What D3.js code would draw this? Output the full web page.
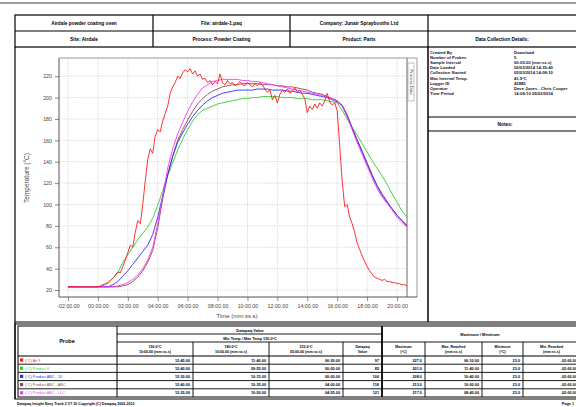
<!DOCTYPE html>
<html><head><meta charset="utf-8">
<script src="https://cdn.jsdelivr.net/npm/d3@7"></script>
<style>
html,body{margin:0;padding:0;background:#fff;overflow:hidden}
svg{display:block;font-family:"Liberation Sans",Arial,sans-serif}
</style></head><body>
<svg id="c" width="576" height="407"></svg>
<script>
// ---------- data ----------
const headerRow1 = ["Airdale powder coating oven", "File: airdale-1.paq", "Company: Junair Spraybooths Ltd", ""];
const headerRow2 = ["Site: Airdale", "Process: Powder Coating", "Product: Parts", "Data Collection Details:"];
const detailLabels = ["Created By", "Number of Probes", "Sample Interval", "Date Loaded", "Collection Started", "Max Internal Temp.", "Logger ID", "Operator", "Time Period"];
const detailValues = ["Download", "5", "00:05.00 (mm:ss.s)", "05/03/2014 14:35:40", "05/03/2014 14:08:10", "41.9°C", "45885", "Dave Jones - Chris Cooper", "14:08:10 05/03/2014"];

const yTicks = [20, 40, 60, 80, 100, 120, 140, 160, 180, 200, 220];
const xTicks = [-120, 0, 120, 240, 360, 480, 600, 720, 840, 960, 1080, 1200];
const xTickLabels = ["-02:00.00", "00:00.00", "02:00.00", "04:00.00", "06:00.00", "08:00.00", "10:00.00", "12:00.00", "14:00.00", "16:00.00", "18:00.00", "20:00.00"];

const airTimes = [-120,-110,-100,-90,-80,-70,-60,-50,-40,-30,-20,-10,0,
 10,20,30,40,50,60,70,80,90,100,
 110,120,130,140,150,160,170,180,190,200,
 210,220,230,240,250,260,270,280,290,300,
 310,320,330,340,350,360,370,380,390,400,
 410,420,430,440,450,460,470,480,490,500,
 510,520,530,540,550,560,570,580,590,600,
 610,620,630,640,650,660,670,680,690,700,
 710,720,730,740,750,760,770,780,790,800,
 810,820,830,840,850,860,870,880,890,900,
 910,920,930,940,950,960,970,980,990,1000,
 1010,1020,1030,1040,1050,1060,1070,1080,1090,1100,
 1110,1120,1130,1140,1150,1160,1170,1180,1190,1200,
 1210,1220,1230,1240];
const air = [23,23,23,23,23,23,23,23,23,23,23,23,23,
 24,25,26,27,29,31,34,37,36,42,
 48,55,62,60,74,85,82,100,122,142,
 152,148,164,170,168,178,185,192,204,210,
 214,220,218,223,226,224,227,222,225,220,
 222,217,218,214,216,212,215,213,222,214,
 212,216,213,214,211,213,215,212,211,214,
 212,210,213,211,214,212,208,205,207,198,
 202,195,203,207,205,208,204,206,209,205,
 207,203,199,186,192,189,194,190,195,192,
 197,204,196,193,195,188,155,122,98,100,
 88,82,74,64,58,52,47,42,38,35,
 32,31,30,29,30,28,28,27,27,26,
 26,25,25,24];

const productTimes = [-120,-100,-80,-60,-40,-20,0,
 20,40,60,80,100,120,140,160,180,200,
 220,240,260,280,300,320,340,360,380,400,
 420,440,460,480,500,520,540,560,580,600,
 620,640,660,680,700,720,740,760,780,800,
 820,840,860,880,900,920,940,960,980,1000,
 1020,1040,1060,1080,1100,1120,1140,1160,1180,1200,
 1220,1240];
const product6 = [23,23,23,23,23,23,23,
 24,26,31,36,46,53,60,67,73,79,
 87,99,113,127,139,151,161,170,178,184,
 188,190,192,194,195,196,197,198,199,199,
 200,200,201,201,201,201,200,200,200,199,
 199,199,198,198,198,197,196,195,188,180,
 172,165,157,149,141,134,127,119,110,102,
 94,88];
const product10 = [23,23,23,23,23,23,23,
 23,23,25,28,33,38,44,50,56,62,
 72,88,108,128,145,158,167,175,182,188,
 193,197,200,202,204,205,206,207,207,207,
 207,208,208,208,207,207,207,206,206,205,
 204,204,203,202,201,200,198,196,192,183,
 171,160,149,138,127,117,109,102,96,90,
 85,80];
const productAbc = [23,23,23,23,23,23,23,
 23,23,23,23,24,25,28,32,38,46,
 57,78,105,128,145,160,170,179,187,194,
 199,203,206,208,210,211,212,212,213,213,
 213,213,212,212,212,211,211,210,210,209,
 208,207,205,204,203,201,199,197,193,184,
 172,161,150,139,128,118,110,103,96,90,
 85,80];
const productLlc = [23,23,23,23,23,23,23,
 23,23,23,24,25,27,30,34,40,48,
 60,82,108,134,152,166,177,187,196,203,
 209,212,215,216,217,217,217,217,216,216,
 215,215,214,213,212,211,210,209,208,207,
 206,205,204,203,202,200,199,197,192,182,
 170,158,147,136,125,115,107,101,95,88,
 83,79];

const probeNames = ["(°C) Air 9", "(°C) Product 6", "(°C) Product ABC - 10", "(°C) Product ABC - ABC", "(°C) Product ABC - LLC"];
const probeColors = ["#ff1a1a", "#33cc33", "#2a2aff", "#8b4a4a", "#ff33ff"];
const colTime150 = ["12:45.00", "12:40.00", "12:30.00", "12:40.00", "12:35.00"];
const colTime180 = ["11:40.00", "09:55.00", "10:15.00", "10:35.00", "10:50.00"];
const colTime210 = ["06:20.00", "00:00.00", "00:00.00", "04:00.00", "04:55.00"];
const colDatapaq = ["97", "85", "100", "118", "121"];
const colMax = ["227.0", "201.0", "208.0", "213.0", "217.0"];
const colMaxAt = ["06:10.00", "11:40.00", "10:40.00", "10:00.00", "08:40.00"];
const colMin = ["23.0", "23.0", "23.0", "23.0", "23.0"];
const colMinAt = ["-02:00.00", "-02:00.00", "-02:00.00", "-02:00.00", "-02:00.00"];

// ---------- drawing ----------
const svg = d3.select("#c");
const FONT = '"Liberation Sans",Arial,sans-serif';
function line(x1, y1, x2, y2, w = 1, c = "#000") {
  svg.append("line").attr("x1", x1).attr("y1", y1).attr("x2", x2).attr("y2", y2)
    .attr("stroke", c).attr("stroke-width", w);
}
function text(x, y, s, size, opts = {}) {
  return svg.append("text").attr("x", x).attr("y", y).text(s)
    .attr("font-size", size).attr("font-weight", opts.bold ? "bold" : "normal")
    .attr("text-anchor", opts.anchor || "middle").attr("fill", opts.fill || "#000")
    .attr("font-family", FONT);
}

// top gray bar
svg.append("rect").attr("x", 0).attr("y", 2).attr("width", 576).attr("height", 2).attr("fill", "#a0a0a0");

// header table
svg.append("rect").attr("x", 15).attr("y", 15).attr("width", 600).attr("height", 32)
  .attr("fill", "none").attr("stroke", "#000").attr("stroke-width", 1.2);
line(15, 31, 615, 31, 1.2);
const hdrCols = [15, 153, 290, 428, 620];
[153, 290, 428].forEach(xv => line(xv, 15, xv, 47, 1.2));
headerRow1.forEach((s, i) => text((hdrCols[i] + hdrCols[i + 1]) / 2 - (i === 3 ? 50 : 0), 25, s, 4.8, { bold: true }));
headerRow2.forEach((s, i) => text(i === 3 ? 502 : (hdrCols[i] + hdrCols[i + 1]) / 2, 41, s, 4.8, { bold: true }));

// chart section borders
line(15, 47, 15, 399, 1.2);
line(15, 322, 615, 322, 1.2);
line(428, 47, 428, 322, 1.5);
line(428, 117, 615, 117, 1.2);
line(428, 131, 615, 131, 1.2);
text(505, 126, "Notes:", 4.8, { bold: true });
detailLabels.forEach((s, i) => text(430, 53.5 + i * 5.2, s, 4.2, { bold: true, anchor: "start", fill: "#101030" }));
detailValues.forEach((s, i) => text(514, 53.5 + i * 5.2, s, 4.2, { bold: true, anchor: "start", fill: "#101030" }));

// ---------- plot ----------
const x = d3.scaleLinear().domain([-156, 1240]).range([59, 407]);
const y = d3.scaleLinear().domain([13.5, 237]).range([297, 58]);

// frame
line(59, 58, 417, 58, 1, "#9a9a9a");
line(417, 58, 417, 297, 1, "#9a9a9a");
line(407, 58, 407, 297, 1.3, "#8a8a8a");
svg.append("rect").attr("x", 408).attr("y", 63).attr("width", 6).attr("height", 38)
  .attr("fill", "#fff").attr("stroke", "#999").attr("stroke-width", 0.6);
svg.append("text").attr("transform", "translate(409.6,82) rotate(90)").attr("text-anchor", "middle")
  .attr("font-size", 4.2).attr("fill", "#444").attr("font-family", FONT).text("Process Data");

// grid
const grid = svg.append("g").attr("stroke", "#b8b8b8").attr("stroke-width", 0.6).attr("stroke-dasharray", "1.2,1.3");
yTicks.forEach(v => grid.append("line").attr("x1", 59).attr("x2", 407).attr("y1", y(v)).attr("y2", y(v)));
xTicks.forEach(v => grid.append("line").attr("x1", x(v)).attr("x2", x(v)).attr("y1", 58).attr("y2", 297));

// series
const lineGen = d3.line().x(d => x(d[0])).y(d => y(d[1]));
const series = [
  { t: productTimes, v: product6, c: probeColors[1] },
  { t: productTimes, v: productAbc, c: probeColors[3] },
  { t: productTimes, v: product10, c: probeColors[2] },
  { t: productTimes, v: productLlc, c: probeColors[4] },
  { t: airTimes, v: air, c: probeColors[0] }
];
series.forEach(s => {
  svg.append("path").datum(s.t.map((t, i) => [t, s.v[i]])).attr("d", lineGen)
    .attr("fill", "none").attr("stroke", s.c).attr("stroke-width", 0.9).attr("stroke-linejoin", "round");
});

// axes
const yMinor = d3.range(15, 236, 5);
const gy = svg.append("g").attr("transform", "translate(59,0)");
gy.call(d3.axisLeft(y).tickValues(yMinor).tickSize(2).tickFormat(""));
gy.call(d3.axisLeft(y).tickValues(yTicks).tickSize(4).tickFormat(d => d));
gy.selectAll("path.domain").attr("stroke", "#555").attr("d", "M0,58V297");
gy.selectAll("line").attr("stroke", "#555").attr("stroke-width", 0.7);
gy.selectAll("text").attr("font-size", 5.3).attr("fill", "#444").attr("font-family", FONT).attr("x", -7);

const gx = svg.append("g").attr("transform", "translate(0,297)");
gx.call(d3.axisBottom(x).tickValues(d3.range(-120, 1240, 60)).tickSize(2).tickFormat(""));
gx.call(d3.axisBottom(x).tickValues(xTicks).tickSize(4).tickFormat((d, i) => xTickLabels[i]));
gx.selectAll("path.domain").attr("stroke", "#555").attr("d", "M59,0H417");
gx.selectAll("line").attr("stroke", "#555").attr("stroke-width", 0.7);
gx.selectAll("text").attr("font-size", 5.3).attr("fill", "#444").attr("font-family", FONT).attr("y", 7);

svg.append("text").attr("transform", "translate(29,178) rotate(-90)").attr("text-anchor", "middle")
  .attr("font-size", 6.5).attr("fill", "#444").attr("font-family", FONT).text("Temperature (°C)");
text(237, 318, "Time (mm:ss.s)", 6, { fill: "#444" });

// ---------- bottom table ----------
svg.append("rect").attr("x", 15).attr("y", 324).attr("width", 600).attr("height", 75)
  .attr("fill", "none").attr("stroke", "#000").attr("stroke-width", 1);
svg.append("rect").attr("x", 18).attr("y", 326).attr("width", 600).attr("height", 71)
  .attr("fill", "none").attr("stroke", "#000").attr("stroke-width", 1);
const rowY = [356, 364.2, 372.4, 380.6, 388.8, 397];
line(117, 334, 382, 334, 0.9);
line(117, 342, 615, 342, 0.9);
line(18, 356, 615, 356, 1.2);
rowY.slice(1, 5).forEach(v => line(18, v, 615, v, 0.9));
line(117, 326, 117, 397, 1);
[193, 269, 343, 425, 482, 523].forEach(v => line(v, 342, v, 397, 0.9));
line(382, 326, 382, 397, 1.8);

text(67, 343, "Probe", 5.5, { bold: true });
text(250, 331.5, "Datapaq Value", 4, { bold: true });
text(250, 339.5, "Min Temp / Max Temp 150.0°C", 3.8, { bold: true });
text(480, 335.5, "Maximum / Minimum", 4, { bold: true });
const colEdges = [117, 193, 269, 343, 382, 425, 482, 523, 580];
const colHead = [["150.0°C", "10:00.00 (mm:ss.s)"], ["180.0°C", "10:00.00 (mm:ss.s)"], ["210.0°C", "05:00.00 (mm:ss.s)"], ["Datapaq", "Value"],
  ["Maximum", "(°C)"], ["Max. Reached", "(mm:ss.s)"], ["Minimum", "(°C)"], ["Min. Reached", "(mm:ss.s)"]];
colHead.forEach((h, i) => {
  const cx = (colEdges[i] + colEdges[i + 1]) / 2;
  text(cx, 348, h[0], 3.6, { bold: true });
  text(cx, 353, h[1], 3.6, { bold: true });
});
const cols = [colTime150, colTime180, colTime210, colDatapaq, colMax, colMaxAt, colMin, colMinAt];
probeNames.forEach((n, r) => {
  const yy = rowY[r] + 5.6;
  svg.append("rect").attr("x", 20).attr("y", yy - 3.2).attr("width", 3.2).attr("height", 3.2).attr("fill", probeColors[r]);
  text(25, yy, n, 3.8, { anchor: "start", fill: probeColors[r] });
  cols.forEach((c, i) => text(colEdges[i + 1] - 3, yy, c[r], 3.8, { bold: true, anchor: "end" }));
});

// footer
text(17, 405, "Datapaq Insight Easy Track 2 V7.10  Copyright (C) Datapaq 2002-2012", 3.6, { anchor: "start", bold: true });
text(574, 405, "Page 1", 3.8, { anchor: "end", bold: true });
</script>
</body></html>
